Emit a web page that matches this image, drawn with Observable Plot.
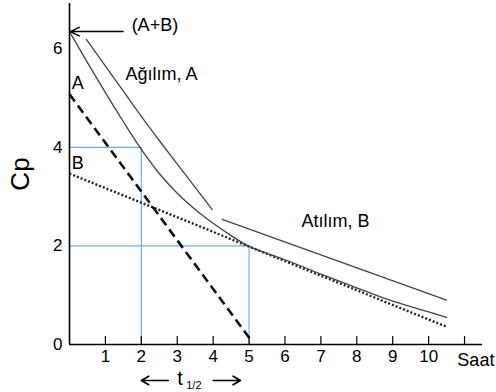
<!DOCTYPE html>
<html>
<head>
<meta charset="utf-8">
<script src="https://cdn.jsdelivr.net/npm/d3@7"></script>
<script src="https://cdn.jsdelivr.net/npm/@observablehq/plot@0.6"></script>
<style>
  html, body { margin: 0; padding: 0; background: #fff; }
</style>
</head>
<body>
<div id="chart"></div>
<script>
// ---- data ----
// Total plasma curve (A+B)
const abT = [0, 0.5, 1, 1.5, 2, 2.5, 3, 3.5, 4, 4.5, 5, 5.5, 6, 7, 8, 9, 9.5, 10, 10.5];
const abC = [6.35, 5.72, 5.11, 4.52, 3.96, 3.47, 3.07, 2.74, 2.46, 2.21, 1.99, 1.85, 1.72, 1.43, 1.15, 0.88, 0.77, 0.66, 0.55];
// Distribution phase (Ağılım, A) – shifted line
const distT = [0.47, 1, 1.5, 2, 2.5, 3, 3.5, 3.97];
const distC = [6.19, 5.65, 5.14, 4.63, 4.14, 3.66, 3.19, 2.74];
// Elimination phase (Atılım, B) – shifted line
const elimT = [4.25, 10.5];
const elimC = [2.54, 0.90];
// Component A (dashed)
const aT = [0, 5.02];
const aC = [5.08, 0.12];
// Component B (dotted)
const bT = [0, 10.5];
const bC = [3.47, 0.36];
// Half-life guide lines
const halfT = [2, 5];
const halfC = [4, 2];
// Ticks
const xTickLabels = [1, 2, 3, 4, 5, 6, 7, 8, 9, 10];
const xTickMarks = [1, 2, 3, 4, 5, 6, 7, 8, 9, 10, 11];
const yTickLabels = [0, 2, 4, 6];
// Annotations
const labelText = ["(A+B)", "Ağılım, A", "Atılım, B", "A", "B", "Saat"];
const labelX    = [1.73, 1.56, 6.46, 0.06, 0.06, 10.8];
const labelY    = [6.37, 5.37, 2.38, 5.19, 3.57, -0.43];

const zip = (xs, ys) => xs.map((x, i) => ({x, y: ys[i]}));

const W = 496, H = 392;
const mTop = 3, mBottom = 48, mLeft = 69, mRight = 14;
const innerH = H - mTop - mBottom;
const font = "'Liberation Sans', Arial, sans-serif";

const chart = Plot.plot({
  width: W,
  height: H,
  marginTop: mTop,
  marginBottom: mBottom,
  marginLeft: mLeft,
  marginRight: mRight,
  style: {fontFamily: font, fontSize: "17px", color: "#000", background: "#fff", overflow: "visible"},
  x: {domain: [0, 11.5]},
  y: {domain: [0, 6.92]},
  marks: [
    // half-life guides (light blue)
    Plot.ruleY(zip(halfT, halfC), {y: "y", x1: 0, x2: "x", stroke: "#74a9f2", strokeWidth: 1.2}),
    Plot.ruleX(zip(halfT, halfC), {x: "x", y1: 0, y2: "y", stroke: "#74a9f2", strokeWidth: 1.2}),
    // component lines
    Plot.line(zip(aT, aC), {x: "x", y: "y", stroke: "#111", strokeWidth: 2.6, strokeDasharray: "9,5", strokeLinecap: "butt"}),
    Plot.line(zip(bT, bC), {x: "x", y: "y", stroke: "#222", strokeWidth: 2.4, strokeDasharray: "2,2", strokeLinecap: "butt"}),
    // curves
    Plot.line(zip(abT, abC), {x: "x", y: "y", stroke: "#444", strokeWidth: 1.3, curve: "monotone-x"}),
    Plot.line(zip(distT, distC), {x: "x", y: "y", stroke: "#444", strokeWidth: 1.3, curve: "monotone-x"}),
    Plot.line(zip(elimT, elimC), {x: "x", y: "y", stroke: "#444", strokeWidth: 1.3}),
    // axes lines
    Plot.ruleX([0], {stroke: "#000", strokeWidth: 1.6}),
    Plot.ruleY([0], {stroke: "#000", strokeWidth: 1.6}),
    Plot.ruleX(xTickMarks, {x: d => d, stroke: "#000", strokeWidth: 1.2, insetTop: innerH - 8}),
    Plot.axisX({ticks: xTickLabels, tickSize: 0, tickPadding: 5, fontSize: 17, tickFormat: d => String(d)}),
    Plot.axisY({ticks: yTickLabels, tickSize: 0, tickPadding: 7, fontSize: 17, tickFormat: d => String(d), label: null}),
    // (A+B) arrow
    Plot.arrow([{x1: 1.49, y1: 6.35, x2: 0.02, y2: 6.35}], {x1: "x1", y1: "y1", x2: "x2", y2: "y2", stroke: "#000", strokeWidth: 1.5, headLength: 10, headAngle: 50}),
    // annotations
    Plot.text(labelText.map((t, i) => ({t, x: labelX[i], y: labelY[i]})), {x: "x", y: "y", text: "t", textAnchor: "start", lineAnchor: "bottom", fontSize: 18, fill: "#000"}),
    // t1/2 with arrows
    Plot.arrow([{x1: 2.75, x2: 2.0}, {x1: 4.0, x2: 4.76}], {x1: "x1", x2: "x2", y1: () => -0.73, y2: () => -0.73, stroke: "#000", strokeWidth: 1.6, headLength: 8, headAngle: 60, clip: false}),
    Plot.text(["t"], {x: () => 3.0, y: () => -0.83, text: d => d, textAnchor: "start", lineAnchor: "bottom", fontSize: 20, fill: "#000"}),
    Plot.text(["1/2"], {x: () => 3.25, y: () => -0.91, text: d => d, textAnchor: "start", lineAnchor: "bottom", fontSize: 11, fill: "#000"}),
    // y axis title
    Plot.text(["Cp"], {frameAnchor: "left", dx: -mLeft + 20, dy: 0, text: d => d, rotate: -90, textAnchor: "middle", fontSize: 26, fill: "#000"})
  ]
});

document.getElementById("chart").appendChild(chart);
</script>
</body>
</html>
